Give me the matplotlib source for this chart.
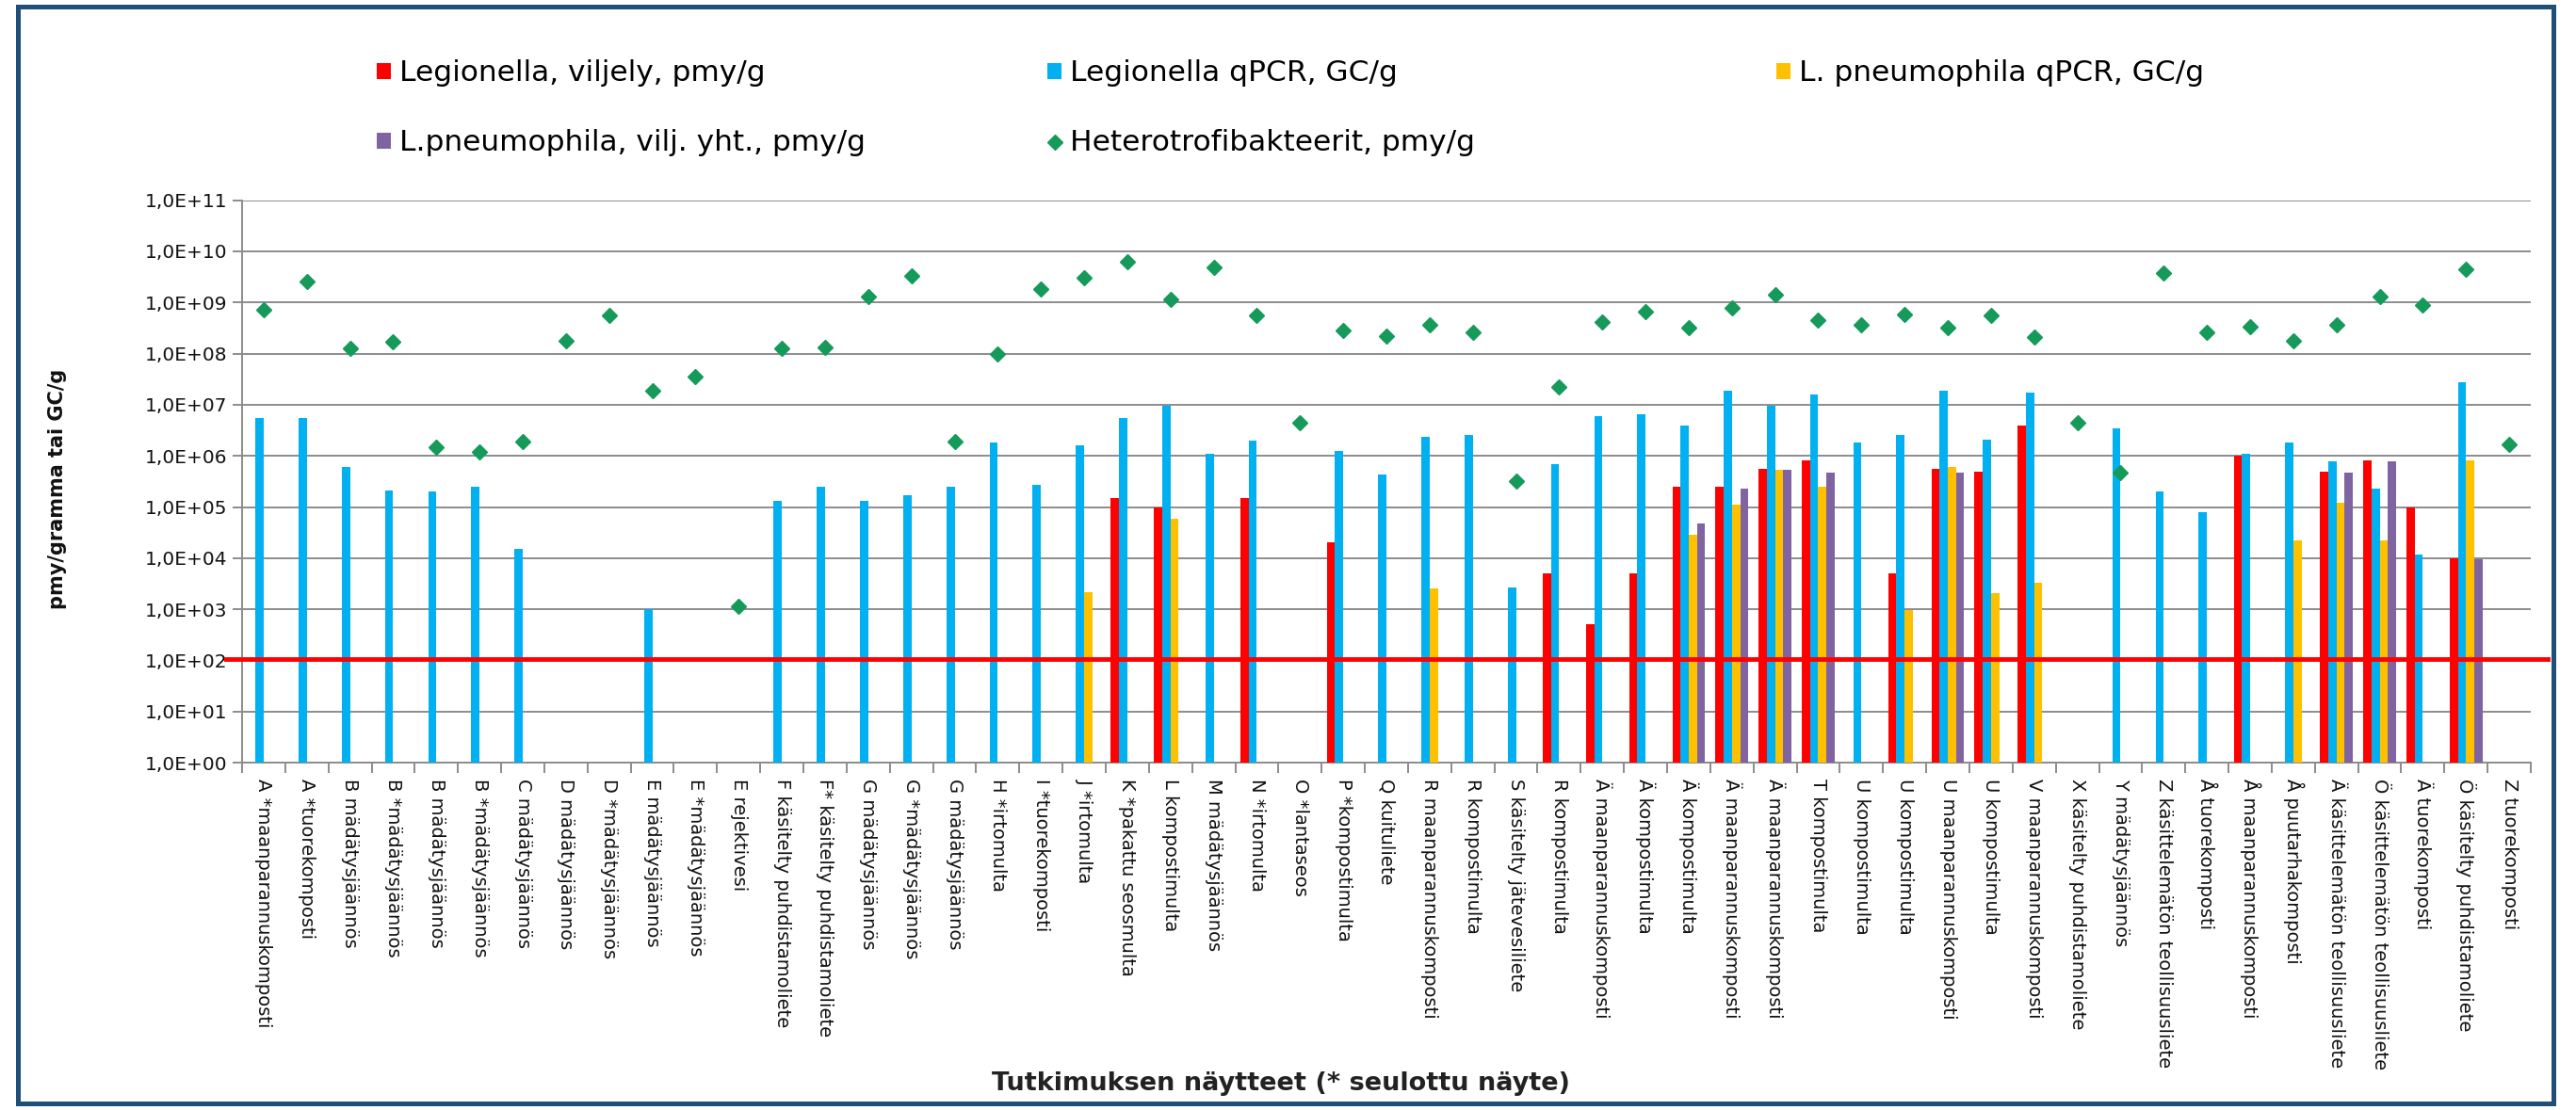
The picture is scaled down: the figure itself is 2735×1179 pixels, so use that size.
import numpy as np
import matplotlib
matplotlib.use("Agg")
import matplotlib.pyplot as plt
from matplotlib.patches import Rectangle, Patch
from matplotlib.lines import Line2D
from matplotlib.ticker import FixedLocator, NullLocator

nan = np.nan

categories = [
    "A *maanparannuskomposti", "A *tuorekomposti", "B mädätysjäännös", "B *mädätysjäännös",
    "B mädätysjäännös", "B *mädätysjäännös", "C mädätysjäännös", "D mädätysjäännös",
    "D *mädätysjäännös", "E mädätysjäännös", "E *mädätysjäännös", "E rejektivesi",
    "F käsitelty puhdistamoliete", "F* käsitelty puhdistamoliete", "G mädätysjäännös",
    "G *mädätysjäännös", "G mädätysjäännös", "H *irtomulta", "I *tuorekomposti", "J *irtomulta",
    "K *pakattu seosmulta", "L kompostimulta", "M mädätysjäännös", "N *irtomulta",
    "O *lantaseos", "P *kompostimulta", "Q kuituliete", "R maanparannuskomposti",
    "R kompostimulta", "S käsitelty jätevesiliete", "R kompostimulta", "Ä maanparannuskomposti",
    "Ä kompostimulta", "Ä kompostimulta", "Ä maanparannuskomposti", "Ä maanparannuskomposti",
    "T kompostimulta", "U kompostimulta", "U kompostimulta", "U maanparannuskomposti",
    "U kompostimulta", "V maanparannuskomposti", "X käsitelty puhdistamoliete",
    "Y mädätysjäännös", "Z käsittelemätön teollisuusliete", "Å tuorekomposti",
    "Å maanparannuskomposti", "Å puutarhakomposti", "Ä käsittelemätön teollisuusliete",
    "Ö käsittelemätön teollisuusliete", "Ä tuorekomposti", "Ö käsitelty puhdistamoliete",
    "Z tuorekomposti",
]

# Legionella, viljely, pmy/g (red)
legionella_viljely = [
    nan, nan, nan, nan, nan, nan, nan, nan, nan, nan,
    nan, nan, nan, nan, nan, nan, nan, nan, nan, nan,
    1.5e5, 1.0e5, nan, 1.5e5, nan, 2.0e4, nan, nan, nan, nan,
    5.0e3, 5.0e2, 5.0e3, 2.5e5, 2.5e5, 5.5e5, 8.0e5, nan, 5.0e3, 5.5e5,
    5.0e5, 4.0e6, nan, nan, nan, nan, 1.0e6, nan, 5.0e5, 8.0e5,
    1.0e5, 1.0e4, nan,
]

# Legionella qPCR, GC/g (blue)
legionella_qpcr = [
    5.6e6, 5.6e6, 6.0e5, 2.1e5, 2.0e5, 2.5e5, 1.5e4, nan, nan, 1.0e3,
    nan, nan, 1.3e5, 2.5e5, 1.3e5, 1.7e5, 2.5e5, 1.8e6, 2.7e5, 1.6e6,
    5.6e6, 9.5e6, 1.1e6, 2.0e6, nan, 1.25e6, 4.4e5, 2.4e6, 2.6e6, 2.7e3,
    7.0e5, 6.0e6, 6.6e6, 3.9e6, 1.9e7, 9.4e6, 1.6e7, 1.8e6, 2.6e6, 1.9e7,
    2.1e6, 1.7e7, nan, 3.5e6, 2.0e5, 8.0e4, 1.1e6, 1.8e6, 7.7e5, 2.3e5,
    1.2e4, 2.8e7, nan,
]

# L. pneumophila qPCR, GC/g (yellow)
pneumophila_qpcr = [
    nan, nan, nan, nan, nan, nan, nan, nan, nan, nan,
    nan, nan, nan, nan, nan, nan, nan, nan, nan, 2.2e3,
    nan, 5.8e4, nan, nan, nan, nan, nan, 2.5e3, nan, nan,
    nan, nan, nan, 2.9e4, 1.1e5, 5.3e5, 2.5e5, nan, 9.5e2, 6.0e5,
    2.1e3, 3.3e3, nan, nan, nan, nan, nan, 2.2e4, 1.2e5, 2.2e4,
    nan, 8.3e5, nan,
]

# L.pneumophila, vilj. yht., pmy/g (purple)
pneumophila_vilj = [
    nan, nan, nan, nan, nan, nan, nan, nan, nan, nan,
    nan, nan, nan, nan, nan, nan, nan, nan, nan, nan,
    nan, nan, nan, nan, nan, nan, nan, nan, nan, nan,
    nan, nan, nan, 4.7e4, 2.3e5, 5.3e5, 4.7e5, nan, nan, 4.7e5,
    nan, nan, nan, nan, nan, nan, nan, nan, 4.7e5, 7.7e5,
    nan, 9.5e3, nan,
]

# Heterotrofibakteerit, pmy/g (green diamonds)
heterotrofit = [
    7.3e8, 2.6e9, 1.25e8, 1.7e8, 1.5e6, 1.2e6, 1.9e6, 1.8e8, 5.6e8, 1.9e7,
    3.5e7, 1.15e3, 1.25e8, 1.35e8, 1.3e9, 3.3e9, 1.9e6, 9.7e7, 1.8e9, 3.0e9,
    6.3e9, 1.17e9, 4.8e9, 5.5e8, 4.5e6, 2.8e8, 2.2e8, 3.7e8, 2.6e8, 3.2e5,
    2.2e7, 4.2e8, 6.7e8, 3.2e8, 7.9e8, 1.4e9, 4.6e8, 3.7e8, 5.9e8, 3.2e8,
    5.5e8, 2.1e8, 4.5e6, 4.7e5, 3.7e9, 2.6e8, 3.4e8, 1.8e8, 3.7e8, 1.3e9,
    8.9e8, 4.5e9, 1.7e6,
]

series_labels = [
    "Legionella, viljely, pmy/g",
    "Legionella qPCR, GC/g",
    "L. pneumophila qPCR, GC/g",
    "L.pneumophila, vilj. yht., pmy/g",
    "Heterotrofibakteerit, pmy/g",
]

ytick_values = [1e0, 1e1, 1e2, 1e3, 1e4, 1e5, 1e6, 1e7, 1e8, 1e9, 1e10, 1e11]
ytick_labels = ["1,0E+00", "1,0E+01", "1,0E+02", "1,0E+03", "1,0E+04", "1,0E+05",
                "1,0E+06", "1,0E+07", "1,0E+08", "1,0E+09", "1,0E+10", "1,0E+11"]

limit_value = 105

x_title = "Tutkimuksen näytteet (* seulottu näyte)"
y_title = "pmy/gramma tai GC/g"

# ---------------------------------------------------------------- styling
plt.rcParams["font.family"] = ["DejaVu Sans"]

C_RED = "#FF0000"
C_BLUE = "#00B0F0"
C_YEL = "#FFC000"
C_PUR = "#8064A2"
C_GRN = "#169A5A"
C_GRID = "#8C8C8C"

W, H = 2735, 1179
fig = plt.figure(figsize=(W / 100, H / 100), dpi=100)
fig.patch.set_facecolor("white")

ax_l, ax_r, ax_t, ax_b = 257, 2687, 212.7, 810
ax = fig.add_axes([ax_l / W, 1 - ax_b / H, (ax_r - ax_l) / W, (ax_b - ax_t) / H])

n = len(categories)
x = np.arange(n)
bw = 0.19
bar_series = [
    (legionella_viljely, C_RED),
    (legionella_qpcr, C_BLUE),
    (pneumophila_qpcr, C_YEL),
    (pneumophila_vilj, C_PUR),
]
for i, (vals, col) in enumerate(bar_series):
    ax.bar(x + (i - 1.5) * bw, np.array(vals, dtype=float), width=bw, color=col,
           log=True, zorder=3, linewidth=0)

ax.plot(x, heterotrofit, ls="none", marker="D", ms=8, color=C_GRN, mec=C_GRN, zorder=5)

ax.axhline(limit_value, xmin=-0.007, xmax=1.0075, color=C_RED, lw=3.5, zorder=4,
           clip_on=False)

ax.set_yscale("log")
ax.set_ylim(1, 1e11)
ax.set_xlim(-0.5, n - 0.5)

ax.yaxis.set_major_locator(FixedLocator(ytick_values))
ax.yaxis.set_minor_locator(NullLocator())
ax.set_yticklabels(ytick_labels)
ax.yaxis.grid(True, color=C_GRID, lw=1.4, zorder=0)
ax.set_axisbelow(True)
ax.tick_params(axis="y", which="major", length=7, width=1.4, color=C_GRID,
               labelsize=14.5, pad=4, labelcolor="#111111")

ax.set_xticks(x)
ax.set_xticklabels(categories, rotation=270, ha="center", va="top", fontsize=14)
ax.xaxis.set_minor_locator(FixedLocator(np.arange(n + 1) - 0.5))
ax.tick_params(axis="x", which="major", length=0, pad=12, labelcolor="#111111")
ax.tick_params(axis="x", which="minor", length=8, width=1.4, color=C_GRID)

for s in ["top", "right"]:
    ax.spines[s].set_visible(False)
for s in ["left", "bottom"]:
    ax.spines[s].set_color(C_GRID)
    ax.spines[s].set_linewidth(1.4)

ax.set_xlabel(x_title, fontsize=19.5, fontweight="bold", color="#222222")
ax.xaxis.label.set_va("center")
ax.xaxis.set_label_coords((1360 - ax_l) / (ax_r - ax_l), (ax_b - 1151) / (ax_b - ax_t))
ax.set_ylabel(y_title, fontsize=15, fontweight="bold", color="#111111")
ax.yaxis.label.set_va("center")
ax.yaxis.set_label_coords((61 - ax_l) / (ax_r - ax_l), (ax_b - 519) / (ax_b - ax_t))

# ---------------------------------------------------------------- legend
handles = [
    Patch(facecolor=C_RED, edgecolor="none"),
    Patch(facecolor=C_BLUE, edgecolor="none"),
    Patch(facecolor=C_YEL, edgecolor="none"),
    Patch(facecolor=C_PUR, edgecolor="none"),
    Line2D([], [], ls="none", marker="D", ms=8.5, color=C_GRN),
]
positions = [
    (400, 78), (1112, 78), (1886, 78),
    (400, 152), (1112, 152),
]
for h, lab, (px, py) in zip(handles, series_labels, positions):
    fig.legend([h], [lab], loc="center left", bbox_to_anchor=(px / W, 1 - py / H),
               frameon=False, fontsize=22.5, handlelength=0.48, handleheight=0.48,
               handletextpad=0.3, borderpad=0, borderaxespad=0)

# ---------------------------------------------------------------- outer frame
fig.patches.append(Rectangle((19 / W, 7 / H), (2711 - 19) / W, (1172 - 7) / H,
                             transform=fig.transFigure, fill=False,
                             edgecolor="#1F4E79", linewidth=3.6))

fig.savefig("out.png", dpi=100)
